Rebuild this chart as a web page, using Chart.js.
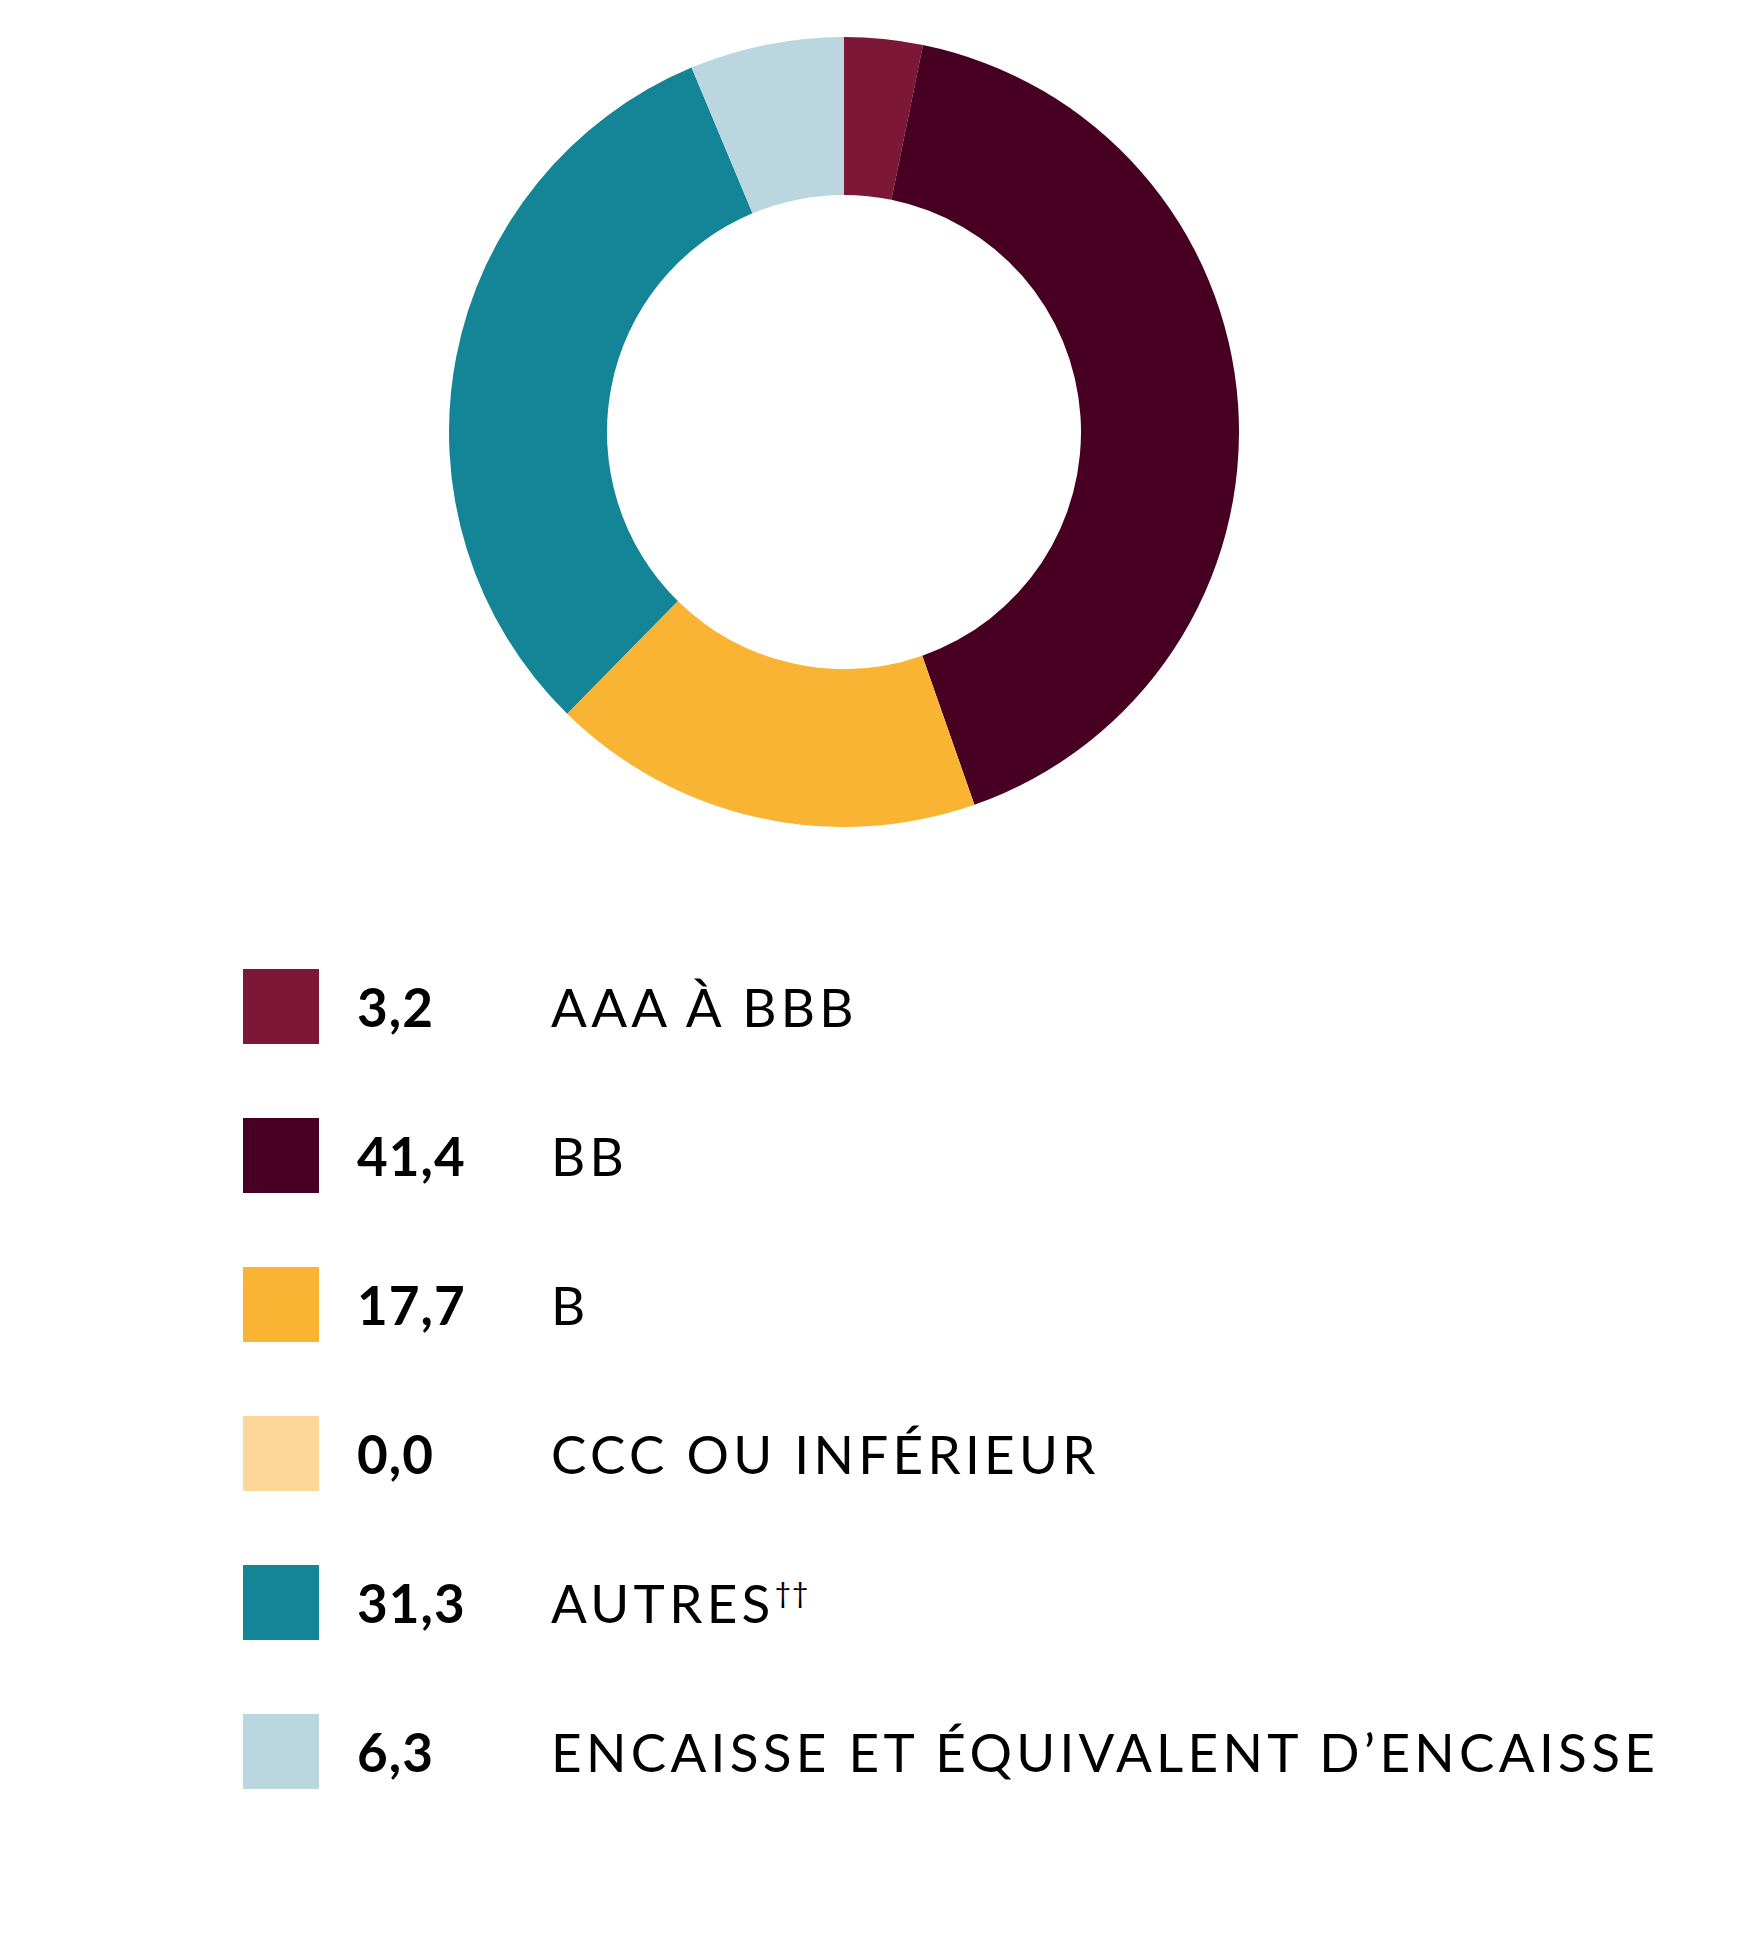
<!DOCTYPE html>
<html lang="fr">
<head>
<meta charset="utf-8">
<title>Répartition par notation</title>
<script src="https://cdn.jsdelivr.net/npm/chart.js@4.4.1/dist/chart.umd.min.js"></script>
<style>
  html, body { margin: 0; padding: 0; background: #fff; }
  body { width: 1762px; height: 1947px; position: relative; overflow: hidden; }
  #chartBox { position: absolute; left: 449px; top: 37px; width: 790px; height: 790px; }
  #legend { position: absolute; left: 243px; top: 969px; }
  .row { position: absolute; left: 0; height: 75px; width: 1500px; }
  .swatch { position: absolute; left: 0; top: 0; width: 76px; height: 75px; }
  .val, .lbl { position: absolute; top: 0; height: 75px; line-height: 75px; font-size: 53px; color: #000; white-space: nowrap; }
  .val { left: 114px; font-family: Lato, sans-serif; font-weight: 700; letter-spacing: 1px; }
  .lbl { left: 308px; font-family: Lato, sans-serif; font-weight: 400; letter-spacing: 4.3px; }
  .lbl sup { font-size: 28px; line-height: 0; vertical-align: 0; position: relative; top: -20px; letter-spacing: 1px; }
</style>
</head>
<body>
<div id="chartBox"><canvas id="donutNotation" width="790" height="790"></canvas></div>
<div id="legend"></div>

<script>
// notation des titres (%)
var categories = ['AAA À BBB', 'BB', 'B', 'CCC OU INFÉRIEUR', 'AUTRES', 'ENCAISSE ET ÉQUIVALENT D’ENCAISSE'];
var notes = ['', '', '', '', '††', ''];
var valeurs = [3.2, 41.4, 17.7, 0.0, 31.3, 6.3];
var couleurs = ['#7d1738', '#470022', '#f9b434', '#fed699', '#148597', '#bad7df'];

function formatVal(v) {
  return v.toFixed(1).replace('.', ',');
}

var ctx = document.getElementById('donutNotation');

window.donut = new Chart(ctx, {
  type: 'doughnut',
  data: {
    labels: categories,
    datasets: [{
      data: valeurs,
      backgroundColor: couleurs,
      borderWidth: 0,
      hoverOffset: 0
    }]
  },
  options: {
    responsive: false,
    animation: false,
    cutout: '60%',
    layout: { padding: 0 },
    plugins: {
      legend: { display: false },
      tooltip: { enabled: false }
    }
  }
});

// legende maison : carré, valeur, libellé
var legend = document.getElementById('legend');
for (var i = 0; i < categories.length; i++) {
  var row = document.createElement('div');
  row.className = 'row';
  row.style.top = (i * 149) + 'px';

  var sw = document.createElement('div');
  sw.className = 'swatch';
  sw.style.background = couleurs[i];
  row.appendChild(sw);

  var v = document.createElement('div');
  v.className = 'val';
  v.textContent = formatVal(valeurs[i]);
  row.appendChild(v);

  var l = document.createElement('div');
  l.className = 'lbl';
  l.textContent = categories[i];
  if (notes[i]) {
    var s = document.createElement('sup');
    s.textContent = notes[i];
    l.appendChild(s);
  }
  row.appendChild(l);

  legend.appendChild(row);
}
</script>
</body>
</html>
